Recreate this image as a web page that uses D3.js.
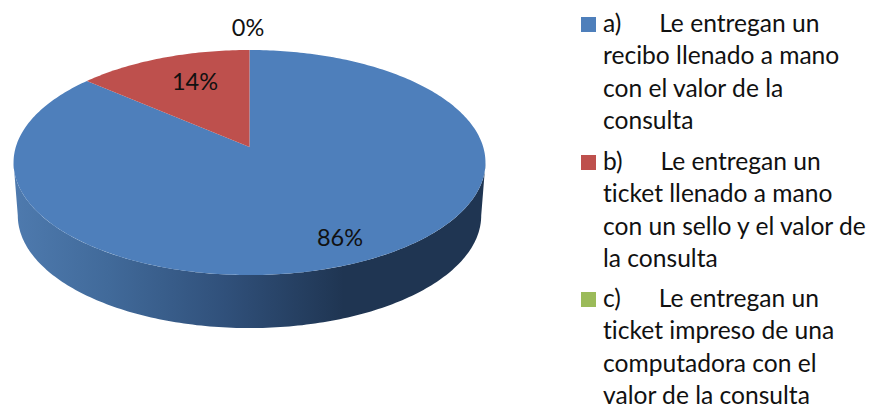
<!DOCTYPE html>
<html>
<head>
<meta charset="utf-8">
<script src="https://cdn.jsdelivr.net/npm/d3@7"></script>
<style>
  html, body { margin: 0; padding: 0; background: #fff; overflow: hidden; }
  text { font-family: Lato, "Open Sans", sans-serif; fill: #111; font-variant-ligatures: none; }
</style>
</head>
<body>
<div id="chart"></div>
<script>
// values
const categories = ["a", "b", "c"];
const values = [86.3, 13.7, 0];
const percentLabels = ["86%", "14%", "0%"];
const colors = ["#4e7fbb", "#be504d", "#9bbb59"];
const legendLines = [
    ["a)\u00a0\u00a0\u00a0\u00a0\u00a0\u00a0Le entregan un", "recibo llenado a mano", "con el valor de la", "consulta"],
    ["b)\u00a0\u00a0\u00a0\u00a0\u00a0\u00a0Le entregan un", "ticket llenado a mano", "con un sello y el valor de", "la consulta"],
    ["c)\u00a0\u00a0\u00a0\u00a0\u00a0\u00a0Le entregan un", "ticket impreso de una", "computadora con el", "valor de la consulta"]
];

const width = 875, height = 407;
const cx = 249.5, cy = 147;     // where the slices meet
const radiusX = 233.7, radiusY = 110.4, tilt = 0.138;
const depth = 53;

const svg = d3.select("#chart").append("svg")
    .attr("width", width)
    .attr("height", height);

// circle seen from above at an angle, far side squeezed
function project(angle, scale = 1, dy = 0) {
    const w = 1 + tilt * Math.cos(angle);
    return [
        cx + scale * radiusX * Math.sin(angle) / w,
        cy + dy - radiusY * Math.cos(angle) / w
    ];
}

const pie = d3.pie().sort(null).value(d => d);
const arcs = pie(values);
const line = d3.line();

function sampleAngles(a0, a1) {
    const n = Math.max(2, Math.ceil(Math.abs(a1 - a0) * 60));
    return d3.range(n + 1).map(i => a0 + (a1 - a0) * i / n);
}

// side wall
const grad = svg.append("defs").append("linearGradient")
    .attr("id", "side")
    .attr("gradientUnits", "userSpaceOnUse")
    .attr("x1", 14).attr("x2", 485).attr("y1", 0).attr("y2", 0);
grad.selectAll("stop")
    .data([[0, "#4e7aae"], [0.2, "#416a9a"], [0.45, "#30507a"], [0.7, "#1f3552"], [1, "#1f3552"]])
    .enter().append("stop")
    .attr("offset", d => d[0])
    .attr("stop-color", d => d[1]);

const frontStart = Math.PI - Math.acos(tilt);
const frontEnd = Math.PI + Math.acos(tilt);
const frontAngles = sampleAngles(frontStart, frontEnd);
const wallPoints = frontAngles.map(a => project(a))
    .concat(frontAngles.slice().reverse().map(a => project(a, 0.982, depth)));

svg.append("path")
    .attr("d", line(wallPoints) + "Z")
    .attr("fill", "url(#side)");

// top face
svg.append("g")
    .selectAll("path")
    .data(arcs.filter(d => d.value > 0))
    .enter().append("path")
    .attr("d", d => line([[cx, cy]].concat(sampleAngles(d.startAngle, d.endAngle).map(a => project(a)))) + "Z")
    .attr("fill", d => colors[d.index]);

// percent labels
const labelPos = [[340, 246], [195, 90], [248, 36]];
svg.append("g")
    .selectAll("text")
    .data(percentLabels)
    .enter().append("text")
    .attr("x", (d, i) => labelPos[i][0])
    .attr("y", (d, i) => labelPos[i][1])
    .attr("text-anchor", "middle")
    .attr("font-size", 23.5)
    .text(d => d);

// legend
const legendY = [32, 170, 307];
const legend = svg.append("g")
    .selectAll("g")
    .data(categories)
    .enter().append("g");

legend.append("rect")
    .attr("x", 581)
    .attr("y", (d, i) => legendY[i] - 15)
    .attr("width", 15)
    .attr("height", 15)
    .attr("fill", (d, i) => colors[i]);

legend.each(function (d, i) {
    d3.select(this).selectAll("text")
        .data(legendLines[i])
        .enter().append("text")
        .attr("x", 603)
        .attr("y", (t, j) => legendY[i] + j * 32.4)
        .attr("font-size", 24.6)
        .text(t => t);
});
</script>
</body>
</html>
